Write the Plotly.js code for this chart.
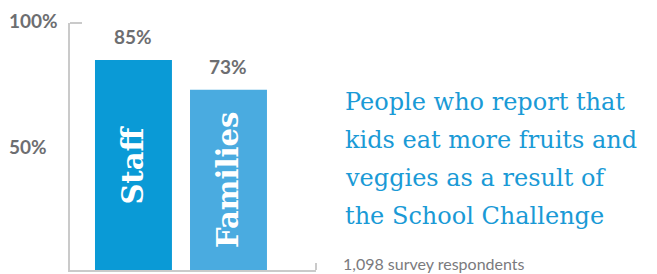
<!DOCTYPE html>
<html><head><meta charset="utf-8">
<script src="https://cdn.plot.ly/plotly-3.0.1.min.js"></script>
<style>html,body{margin:0;padding:0;background:#fff;}#chart{width:657px;height:274px;}</style>
</head><body><div id="chart"></div>
<script>
const categories = ["Staff", "Families"];
const values = [85, 73];
const valueLabels = ["85%", "73%"];
const barColors = ["#0a9ad6", "#4aabe0"];
const yTickVals = [50, 100];
const yTickText = ["50%", "100%"];
const titleLines = ["People who report that", "kids eat more fruits and", "veggies as a result of", "the School Challenge"];
const noteText = "1,098 survey respondents";

const PL = 70, PT = 23, PW = 246, PH = 247;
const px = v => (v - PL) / PW;
const py = v => (PT + PH - v) / PH;

const xs = categories.map((c, i) => i);
const trace = {
  type: "bar", x: xs, y: values, width: 0.81,
  marker: {color: barColors},
  text: categories, textposition: "inside", insidetextanchor: "middle",
  textangle: -90, constraintext: "none",
  textfont: {family: "DejaVu Serif", size: 29, color: "#ffffff", weight: "bold"},
  hoverinfo: "none", cliponaxis: false
};
const gray = "#6d6e71";
const axisGray = "#cacaca";
const annotations = values.map((v, i) => ({
  x: xs[i], y: v, xref: "x", yref: "y", text: valueLabels[i], showarrow: false,
  yanchor: "bottom", yshift: 10,
  font: {family: "Lato", size: 19, color: gray, weight: "bold"}
}));
yTickVals.forEach((v, i) => annotations.push({
  x: px(7), y: v, xref: "paper", yref: "y", text: yTickText[i], showarrow: false,
  xanchor: "left", yanchor: "middle", yshift: v === 100 ? 3 : 0,
  font: {family: "Lato", size: 19, color: gray, weight: "bold"}
}));
titleLines.forEach((t, i) => annotations.push({
  x: px(343), y: py(102 + i * 38), xref: "paper", yref: "paper", text: t,
  showarrow: false, xanchor: "left", yanchor: "middle",
  font: {family: "DejaVu Serif", size: 24, color: "#1a9ad6"}
}));
annotations.push({
  x: px(341), y: py(263), xref: "paper", yref: "paper", text: noteText,
  showarrow: false, xanchor: "left", yanchor: "middle",
  font: {family: "Lato", size: 16, color: "#7a7a7d"}
});
const layout = {
  width: 657, height: 274,
  margin: {l: PL, r: 657 - PL - PW, t: PT, b: 274 - PT - PH, pad: 0},
  paper_bgcolor: "#ffffff", plot_bgcolor: "#ffffff",
  showlegend: false,
  xaxis: {range: [-0.668, 1.921], showticklabels: false, showgrid: false, zeroline: false,
    showline: true, linecolor: axisGray, linewidth: 2, fixedrange: true},
  yaxis: {range: [0, 100], tickvals: yTickVals, showticklabels: false, showgrid: false,
    zeroline: false, showline: true, linecolor: axisGray, linewidth: 2, ticks: "",
    fixedrange: true},
  shapes: [
    {type: "line", xref: "paper", yref: "paper", x0: 0, x1: 12 / PW, y0: 1, y1: 1,
      line: {color: axisGray, width: 2}},
    {type: "line", xref: "paper", yref: "paper", x0: 1, x1: 1, y0: 0, y1: 7 / PH,
      line: {color: axisGray, width: 2}}
  ],
  annotations: annotations
};
Plotly.newPlot("chart", [trace], layout, {displayModeBar: false, staticPlot: true});
</script></body></html>
